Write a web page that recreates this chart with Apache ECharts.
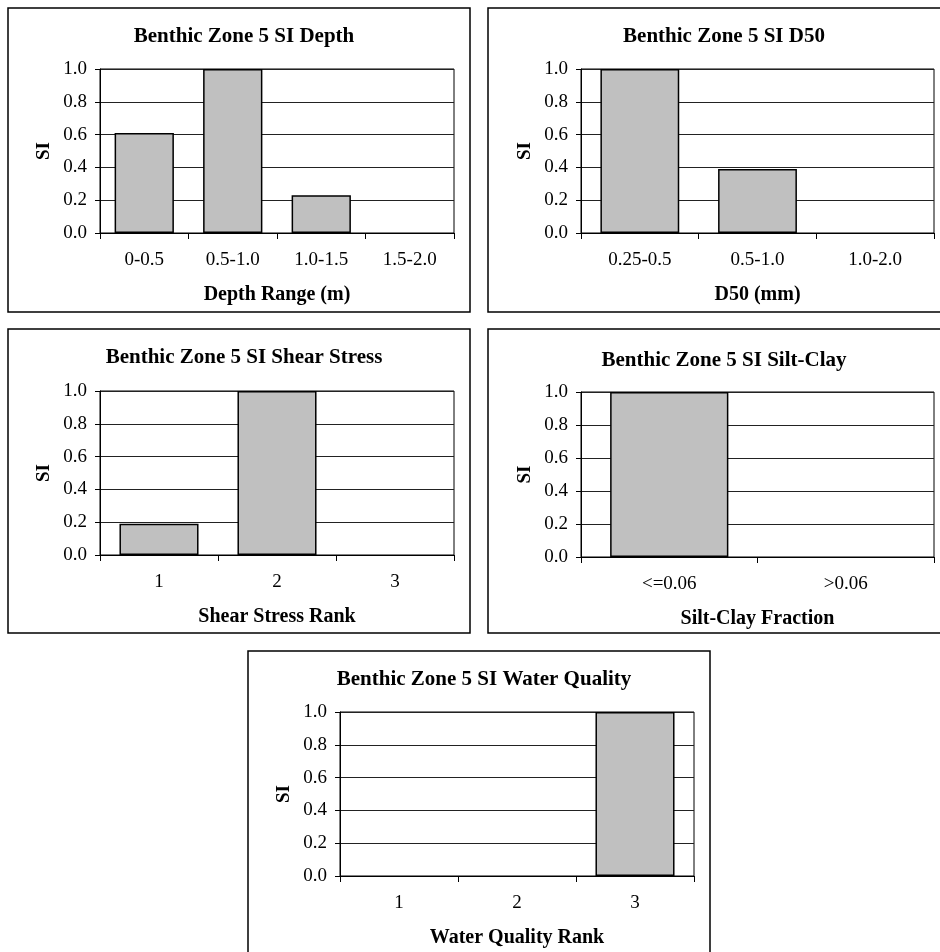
<!DOCTYPE html>
<html>
<head>
<meta charset="utf-8">
<script src="https://cdn.jsdelivr.net/npm/echarts@6/dist/echarts.min.js"></script>
<style>
html,body{margin:0;padding:0;background:#fff;}
#chart{width:940px;height:952px;}
</style>
</head>
<body>
<div id="chart"></div>
<script>
// ---- data ----
const depthCategories = ['0-0.5', '0.5-1.0', '1.0-1.5', '1.5-2.0'];
const depthSI = [0.61, 1.0, 0.23, 0];

const d50Categories = ['0.25-0.5', '0.5-1.0', '1.0-2.0'];
const d50SI = [1.0, 0.39, 0];

const shearCategories = ['1', '2', '3'];
const shearSI = [0.19, 1.0, 0];

const siltCategories = ['<=0.06', '>0.06'];
const siltSI = [1.0, 0];

const waterCategories = ['1', '2', '3'];
const waterSI = [0, 0, 1.0];

const titles = [
  'Benthic Zone 5 SI Depth',
  'Benthic Zone 5 SI D50',
  'Benthic Zone 5 SI Shear Stress',
  'Benthic Zone 5 SI Silt-Clay',
  'Benthic Zone 5 SI Water Quality'
];
const xNames = ['Depth Range (m)', 'D50 (mm)', 'Shear Stress Rank', 'Silt-Clay Fraction', 'Water Quality Rank'];
const yName = 'SI';
const yTicks = [0, 0.2, 0.4, 0.6, 0.8, 1.0];

// ---- layout ----
const FONT = '"Liberation Serif", "Times New Roman", serif';
const panels = [
  {box: [8, 8, 462, 304],   grid: {left: 100, top: 69,  width: 354, height: 164}, titleX: 239, titleTop: 21,  cats: depthCategories, vals: depthSI},
  {box: [488, 8, 462, 304], grid: {left: 581, top: 69,  width: 353, height: 164}, titleX: 719, titleTop: 21,  cats: d50Categories,   vals: d50SI},
  {box: [8, 329, 462, 304], grid: {left: 100, top: 391, width: 354, height: 164}, titleX: 239, titleTop: 342, cats: shearCategories, vals: shearSI},
  {box: [488, 329, 462, 304], grid: {left: 581, top: 392, width: 353, height: 165}, titleX: 719, titleTop: 345, cats: siltCategories, vals: siltSI},
  {box: [248, 651, 462, 304], grid: {left: 340, top: 712, width: 354, height: 164}, titleX: 479, titleTop: 664, cats: waterCategories, vals: waterSI}
];

const option = {
  animation: false,
  backgroundColor: '#fff',
  title: panels.map((p, i) => ({
    text: titles[i],
    left: p.titleX,
    top: p.titleTop,
    textAlign: 'center',
    textStyle: {fontFamily: FONT, fontSize: 21, fontWeight: 'bold', color: '#000'}
  })),
  graphic: panels.map(p => ({
    type: 'rect',
    shape: {x: p.box[0], y: p.box[1], width: p.box[2], height: p.box[3]},
    style: {fill: 'none', stroke: '#000', lineWidth: 1.5},
    z: -1, silent: true
  })),
  grid: panels.map(p => Object.assign({show: true, borderColor: '#000', borderWidth: 1, backgroundColor: '#fff'}, p.grid)),
  xAxis: panels.map((p, i) => ({
    type: 'category',
    gridIndex: i,
    data: p.cats,
    name: xNames[i],
    nameLocation: 'middle',
    nameGap: 52,
    nameTextStyle: {fontFamily: FONT, fontSize: 20, fontWeight: 'bold', color: '#000'},
    axisLine: {lineStyle: {color: '#000', width: 1}},
    axisTick: {show: true, length: 6, lineStyle: {color: '#000'}},
    axisLabel: {fontFamily: FONT, fontSize: 19, color: '#000', margin: 18},
    splitLine: {show: false}
  })),
  yAxis: panels.map((p, i) => ({
    type: 'value',
    gridIndex: i,
    min: yTicks[0],
    max: yTicks[yTicks.length - 1],
    interval: 0.2,
    name: yName,
    nameLocation: 'middle',
    nameGap: 46,
    nameTextStyle: {fontFamily: FONT, fontSize: 19, fontWeight: 'bold', color: '#000'},
    axisLine: {show: true, lineStyle: {color: '#000', width: 1}},
    axisTick: {show: true, length: 5, lineStyle: {color: '#000'}},
    axisLabel: {fontFamily: FONT, fontSize: 19, color: '#000', margin: 13, formatter: v => v.toFixed(1)},
    splitLine: {show: true, lineStyle: {color: '#222', width: 1}}
  })),
  series: panels.map((p, i) => ({
    type: 'bar',
    xAxisIndex: i,
    yAxisIndex: i,
    data: p.vals.map(v => v === 0 ? {value: v, itemStyle: {borderWidth: 0, opacity: 0}} : v),
    barWidth: '67%',
    itemStyle: {color: '#c0c0c0', borderColor: '#000', borderWidth: 1.5}
  }))
};

const chart = echarts.init(document.getElementById('chart'), null, {renderer: 'canvas'});
chart.setOption(option);
</script>
</body>
</html>
